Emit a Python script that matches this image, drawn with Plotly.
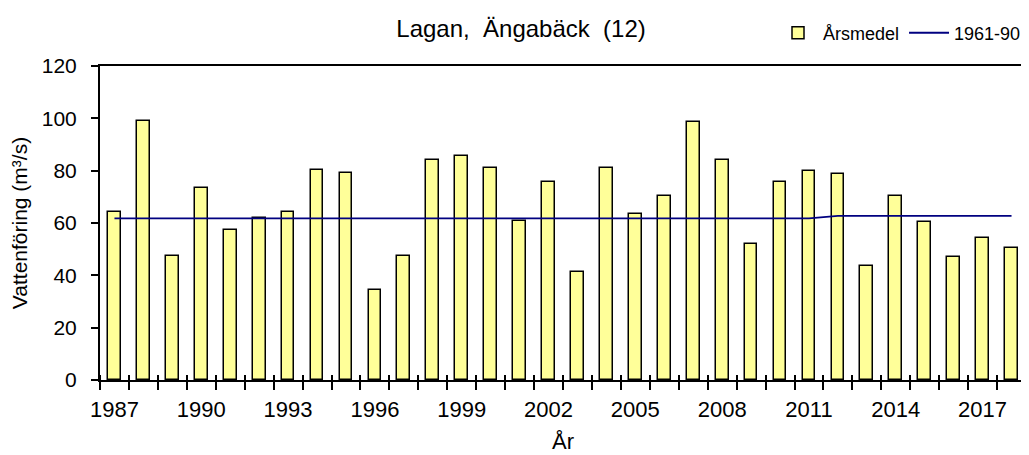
import plotly.graph_objects as go

years = list(range(1987, 2019))
arsmedel = [64.1, 99.1, 47.2, 73.4, 57.2, 61.8, 64.1, 80.1, 79.2, 34.4,
            47.2, 84.0, 85.5, 80.9, 60.9, 75.5, 41.3, 80.9, 63.3, 70.3,
            98.5, 84.0, 52.0, 75.5, 80.0, 78.6, 43.4, 70.3, 60.2, 47.1,
            54.1, 50.3]
normal_1961_90 = [61.8] * 25 + [62.7] * 7
tick_years = list(range(1987, 2019, 3))

font_name = "Liberation Sans"

fig = go.Figure()

fig.add_trace(go.Bar(
    x=years, y=arsmedel, name="Årsmedel", width=0.44,
    marker=dict(color="#FFFF99", line=dict(color="black", width=1.5)),
))

fig.add_trace(go.Scatter(
    x=years, y=normal_1961_90, name="1961-90", mode="lines",
    line=dict(color="#000080", width=1.8), xaxis="x2",
))

xrange = [1986.5, 2018.5]

# the page body has an 8px margin, so the figure is shrunk by that much
fig.update_layout(
    width=1021, height=447,
    margin=dict(l=92, r=1, t=58, b=75),
    plot_bgcolor="white", paper_bgcolor="white",
    font=dict(family=font_name, color="black", size=21),
    title=dict(text="Lagan,  Ängabäck  (12)", x=0.5025, xanchor="center",
               y=0.955, yanchor="middle", font=dict(size=24)),
    showlegend=True,
    legend=dict(orientation="h", x=1.0, xanchor="right", y=1.105, yanchor="middle",
                font=dict(size=18), bgcolor="rgba(0,0,0,0)",
                itemwidth=40, tracegroupgap=0),
    bargap=0,
    xaxis=dict(
        range=xrange, tickmode="array", tickvals=tick_years, ticks="",
        showgrid=False, zeroline=False,
        showline=True, linecolor="black", linewidth=2, mirror=True,
        ticklabelstandoff=9, tickfont=dict(size=22),
        minor=dict(tick0=1986.5, dtick=1, ticks="outside", ticklen=8,
                   tickwidth=2, tickcolor="black", showgrid=False),
        title=dict(text="År", standoff=12, font=dict(size=22)),
    ),
    xaxis2=dict(
        range=xrange, overlaying="x", anchor="y", side="bottom",
        showticklabels=False, ticks="", showgrid=False, zeroline=False,
        showline=False,
        minor=dict(tick0=1986.5, dtick=1, ticks="inside", ticklen=5,
                   tickwidth=2, tickcolor="black", showgrid=False),
    ),
    yaxis=dict(
        range=[0, 120], dtick=20, ticks="outside", ticklen=7, tickwidth=2,
        tickcolor="black", showgrid=False, zeroline=False,
        showline=True, linecolor="black", linewidth=2, mirror=True,
        ticklabelstandoff=10, tickfont=dict(size=21),
        title=dict(text="Vattenföring (m³/s)", standoff=8, font=dict(size=21)),
    ),
)

fig.write_html("out.html")
